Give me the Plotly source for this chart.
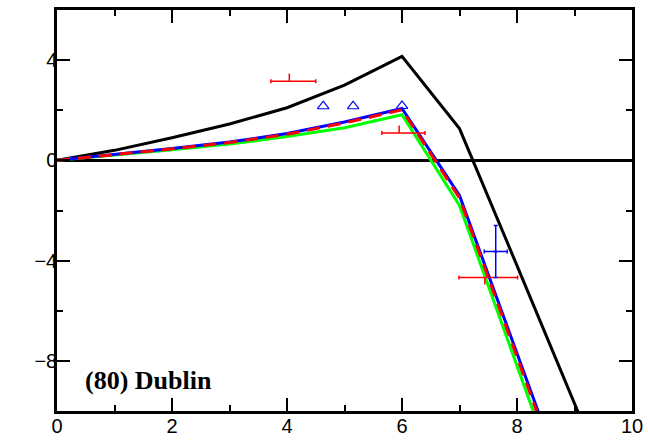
import plotly.graph_objects as go

# Model curves
x_curve = [0, 1, 2, 3, 4, 5, 6, 7, 8, 9, 10]
y_black = [0, 0.4, 0.9, 1.45, 2.1, 3.0, 4.15, 1.27, -4.2, -9.7, -15.2]
x_col = [0, 1, 2, 3, 4, 5, 6, 7, 8, 9]
y_blue = [0, 0.23, 0.47, 0.73, 1.07, 1.53, 2.07, -1.4, -7.7, -14.0]
y_red = [0, 0.22, 0.46, 0.71, 1.04, 1.49, 2.02, -1.5, -7.85, -14.2]
y_green = [0, 0.2, 0.42, 0.65, 0.95, 1.3, 1.82, -1.8, -8.2, -14.6]

# Red data points with error bars
red_x = [4.04, 5.95, 7.44]
red_y = [3.16, 1.09, -4.67]
red_xm = [0.32, 0.3, 0.45]
red_xp = [0.46, 0.45, 0.57]
red_yp = [0.3, 0.3, 0.0]
red_ym = [0.0, 0.0, 0.28]

# Blue data point with error bars
blue_x = [7.63]
blue_y = [-3.64]
blue_xe = [0.2]
blue_yp = [1.04]
blue_ym = [1.03]

# Blue open triangles
tri_x = [4.63, 5.15, 6.0]
tri_y = [2.16, 2.16, 2.17]

label_text = "(80) Dublin"

fig = go.Figure()
fig.add_trace(go.Scatter(x=x_curve, y=y_black, mode="lines",
                         line=dict(color="black", width=3)))
fig.add_trace(go.Scatter(x=x_col, y=y_green, mode="lines",
                         line=dict(color="#00ff00", width=3)))
fig.add_trace(go.Scatter(x=x_col, y=y_blue, mode="lines",
                         line=dict(color="blue", width=3)))
fig.add_trace(go.Scatter(x=x_col, y=y_red, mode="lines",
                         line=dict(color="red", width=3, dash="13px,8px")))
fig.add_trace(go.Scatter(x=red_x, y=red_y, mode="markers",
                         marker=dict(size=1, color="red"),
                         error_x=dict(type="data", symmetric=False, array=red_xp,
                                      arrayminus=red_xm, color="red", thickness=1.5, width=2),
                         error_y=dict(type="data", symmetric=False, array=red_yp,
                                      arrayminus=red_ym, color="red", thickness=1.5, width=0)))
fig.add_trace(go.Scatter(x=blue_x, y=blue_y, mode="markers",
                         marker=dict(size=3, color="blue"),
                         error_x=dict(type="data", array=blue_xe, color="blue",
                                      thickness=1.5, width=2),
                         error_y=dict(type="data", symmetric=False, array=blue_yp,
                                      arrayminus=blue_ym, color="blue", thickness=1.5, width=2)))
fig.add_trace(go.Scatter(x=tri_x, y=tri_y, mode="markers",
                         marker=dict(symbol="triangle-up-open", size=10, color="blue",
                                     line=dict(width=1.2, color="blue"))))

fig.add_annotation(x=0.45, y=-8.8, text="<b>" + label_text + "</b>", showarrow=False,
                   xanchor="left", yanchor="middle",
                   font=dict(family="Liberation Serif", size=26, color="black"))

fig.update_layout(
    width=648, height=442,
    margin=dict(l=57, r=16, t=10, b=31),
    paper_bgcolor="white", plot_bgcolor="white",
    showlegend=False,
    font=dict(family="Liberation Sans", size=20, color="black"),
)
fig.update_xaxes(range=[0, 10], tickvals=[0, 2, 4, 6, 8, 10], automargin=False,
                 ticks="inside", ticklen=13, tickwidth=1.5, tickcolor="black",
                 minor=dict(ticks="inside", ticklen=6, dtick=1, tick0=0, tickcolor="black", tickwidth=1.5),
                 showline=True, linecolor="black", linewidth=2.5, mirror="allticks",
                 showgrid=False, zeroline=False, ticklabelstandoff=-5)
fig.update_yaxes(range=[-10, 6], tickvals=[-8, -4, 0, 4], automargin=False,
                 ticks="inside", ticklen=13, tickwidth=1.5, tickcolor="black",
                 minor=dict(ticks="inside", ticklen=6, dtick=2, tick0=0, tickcolor="black", tickwidth=1.5),
                 showline=True, linecolor="black", linewidth=2.5, mirror="allticks",
                 showgrid=False, zeroline=True, zerolinecolor="black", zerolinewidth=2.5,
                 ticklabelstandoff=-7)

fig.write_html("out.html", post_script="document.body.style.margin='0';",
               config={"displayModeBar": False})
